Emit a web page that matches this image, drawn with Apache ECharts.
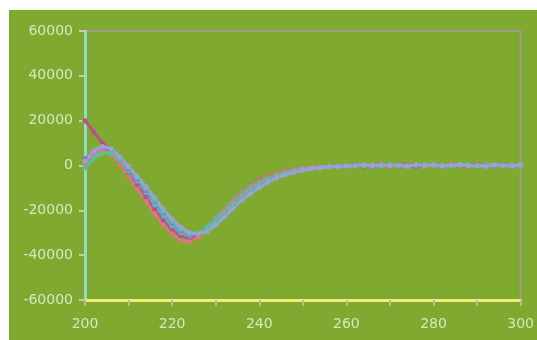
<!DOCTYPE html>
<html><head><meta charset="utf-8">
<script src="https://cdn.jsdelivr.net/npm/echarts@6/dist/echarts.min.js"></script>
<style>html,body{margin:0;padding:0;background:#fff;}#c{position:absolute;left:9px;top:10px;width:528px;height:330px;}</style>
</head><body><div id="c"></div>
<script>
var xValues = [200,202,204,206,208,210,212,214,216,218,220,222,224,226,228,230,232,234,236,238,240,242,244,246,248,250,252,254,256,258,260,262,264,266,268,270,272,274,276,278,280,282,284,286,288,290,292,294,296,298,300];
var s1 = [20000,15000,10000,6500,2000,-3500,-8500,-14000,-19500,-24500,-28500,-31500,-32500,-31000,-28000,-24000,-19500,-15500,-12000,-9000,-6500,-4800,-3400,-2400,-1600,-1100,-800,-500,-300,-200,-100,200,-300,100,400,-200,300,0,-400,200,500,-100,300,-200,100,400,-300,200,0,300,-100];
var s2 = [0,4000,6500,6000,2500,-2500,-7000,-12000,-17500,-22500,-27000,-30000,-31500,-30500,-27500,-23500,-19500,-15500,-12000,-9000,-6800,-5000,-3600,-2600,-1800,-1300,-900,-600,-400,-200,-300,-100,300,-200,0,400,-300,100,300,-100,200,-400,0,300,-200,100,500,-100,200,-300,0];
var s3 = [3000,6000,8000,7000,3500,-1500,-6000,-11000,-16000,-21000,-25500,-29000,-31000,-31000,-29000,-25500,-21500,-17500,-14000,-11000,-8500,-6500,-4800,-3500,-2500,-1800,-1200,-800,-500,-300,-100,300,0,-300,200,100,-200,400,0,-100,300,-300,200,0,-200,400,100,-100,300,-200,100];
var s4 = [1000,5500,7000,5000,500,-5000,-10500,-16000,-21500,-26500,-30500,-33500,-34000,-32000,-28500,-24500,-20000,-16000,-12500,-9500,-7000,-5000,-3500,-2400,-1600,-1000,-700,-400,-200,-300,0,-200,100,300,-100,-300,200,0,400,-200,100,-100,300,0,-300,200,-100,400,-200,0,200];
var s5 = [-1000,3000,5500,5500,3000,-1000,-5500,-10500,-15500,-20500,-25000,-28500,-30500,-30500,-28500,-25000,-21000,-17000,-13500,-10500,-8000,-6000,-4400,-3200,-2300,-1600,-1100,-700,-500,-300,-200,100,-100,200,-300,300,0,-200,100,400,-100,200,-300,100,300,-200,0,200,-100,400,-200];
var s6 = [2000,6500,8500,7500,4000,-500,-5000,-9500,-14500,-19500,-24000,-27500,-30000,-30500,-29500,-26500,-23000,-19000,-15500,-12500,-9800,-7500,-5600,-4100,-3000,-2100,-1500,-1000,-700,-400,-200,0,200,-200,300,-100,100,-300,200,0,400,-200,100,300,-100,0,-400,200,100,-200,300];
var seriesList = [s1,s2,s3,s4,s5,s6];
var colors = ['#b8508f','#58b4c8','#8870c0','#d87a78','#5cc090','#9aa0e0'];
var yTicks = [-60000,-40000,-20000,0,20000,40000,60000];

var chart = echarts.init(document.getElementById('c'));
chart.setOption({
  backgroundColor: '#80aa2f',
  animation: false,
  grid: {left: 76, right: 12, top: 21, bottom: 40, show: true, borderColor: '#a39a8c', borderWidth: 2},
  xAxis: {
    type: 'value', min: 200, max: 300, interval: 10,
    axisLine: {onZero: false, lineStyle: {color: '#f0ee78', width: 3}},
    axisTick: {show: true, length: 6, lineStyle: {color: '#c8b0a0', width: 2}},
    splitLine: {show: false},
    axisLabel: {color: '#d6e6c4', fontSize: 14, margin: 17, fontFamily: 'DejaVu Sans',
      formatter: function (v) { return (v - 200) % 20 === 0 ? String(v) : ''; }}
  },
  yAxis: {
    type: 'value', min: yTicks[0], max: yTicks[yTicks.length - 1], interval: 20000,
    axisLine: {show: true, lineStyle: {color: '#8edcc4', width: 3}},
    axisTick: {show: true, length: 6, lineStyle: {color: '#d0c8a8', width: 2}},
    splitLine: {show: false},
    axisLabel: {color: '#d6e6c4', fontSize: 14, margin: 12, fontFamily: 'DejaVu Sans',
      formatter: function (v) { return String(v); }}
  },
  series: seriesList.map(function (arr, i) {
    return {
      type: 'line', data: xValues.map(function (x, j) { return [x, arr[j]]; }),
      showSymbol: true, symbol: 'circle', symbolSize: 5,
      itemStyle: {color: colors[i]}, lineStyle: {color: colors[i], width: 3}
    };
  })
});
</script></body></html>
